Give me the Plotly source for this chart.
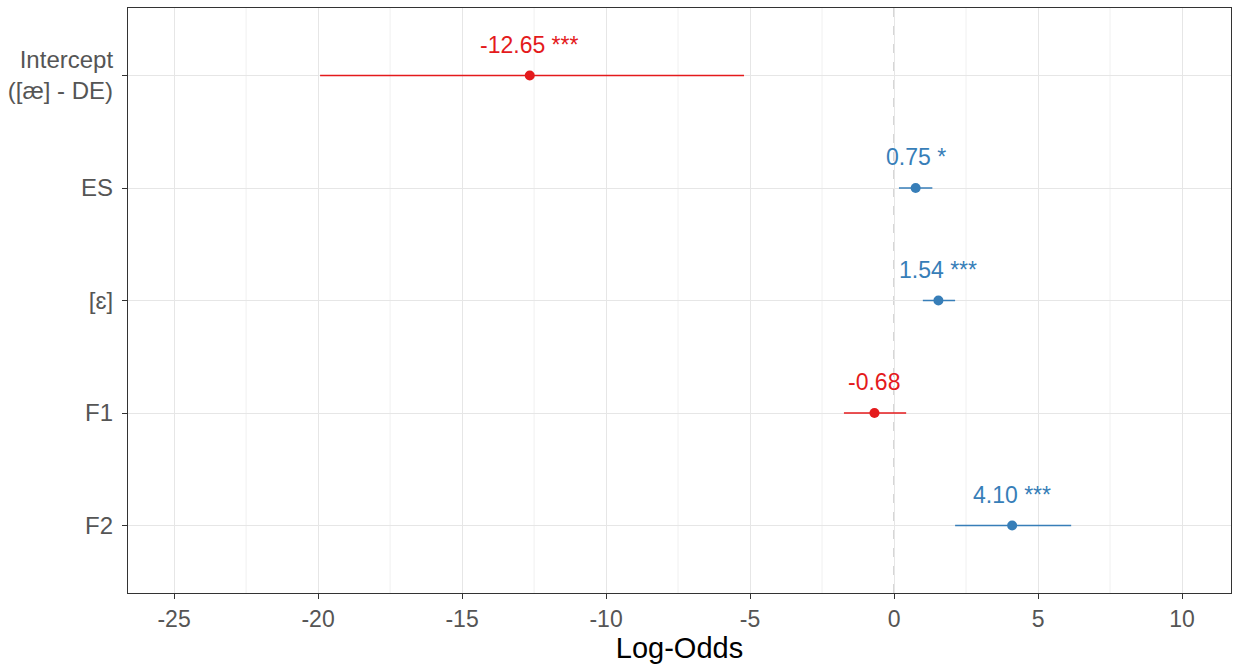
import plotly.graph_objects as go

# Model terms (top to bottom) with estimates and confidence limits
terms = ["Intercept<br>([æ] - DE)", "ES", "[ɛ]", "F1", "F2"]
estimates = [-12.65, 0.75, 1.54, -0.68, 4.10]
ci_low = [-19.93, 0.17, 1.00, -1.74, 2.12]
ci_high = [-5.21, 1.33, 2.12, 0.42, 6.15]
stars = ["***", "*", "***", "", "***"]

x_ticks = [-25, -20, -15, -10, -5, 0, 5, 10]

RED = "#E41A1C"
BLUE = "#377EB8"

fig = go.Figure()

for i, (term, est, lo, hi, st) in enumerate(zip(terms, estimates, ci_low, ci_high, stars)):
    col = BLUE if est > 0 else RED
    fig.add_trace(go.Scatter(
        x=[est], y=[i], mode="markers",
        marker=dict(color=col, size=10),
        error_x=dict(type="data", symmetric=False,
                     array=[hi - est], arrayminus=[est - lo],
                     color=col, thickness=1.5, width=0),
        showlegend=False, hoverinfo="skip",
    ))
    label = f"{est:.2f}" + (f" {st}" if st else "")
    fig.add_annotation(x=est, y=i, text=label, showarrow=False,
                       yshift=31, xanchor="center", yanchor="middle",
                       font=dict(family="Liberation Sans, Arial", size=23, color=col))

# reference line at zero
fig.add_shape(type="line", x0=0, x1=0, y0=0, y1=1, xref="x", yref="paper",
              line=dict(color="#BBBBBB", width=1.3, dash="dash"), layer="below")

# minor grid lines halfway between major ticks
for m in [-22.5, -17.5, -12.5, -7.5, -2.5, 2.5, 7.5]:
    fig.add_shape(type="line", x0=m, x1=m, y0=0, y1=1, xref="x", yref="paper",
                  line=dict(color="#F0F0F0", width=1), layer="below")

fig.update_layout(
    width=1237, height=668,
    margin=dict(l=128, r=6, t=8, b=75),
    plot_bgcolor="white", paper_bgcolor="white",
    font=dict(family="Liberation Sans, Arial", color="#555555"),
    xaxis=dict(
        range=[-26.6, 11.7], tickvals=x_ticks, ticktext=[str(v) for v in x_ticks],
        showgrid=True, gridcolor="#E6E6E6", gridwidth=1, zeroline=False,
        ticks="outside", ticklen=5, tickcolor="#333333",
        tickfont=dict(size=23, color="#555555"),
        showline=True, linecolor="#333333", linewidth=1.2, mirror=True,
        title=dict(text="Log-Odds", font=dict(size=29, color="black"), standoff=5),
    ),
    yaxis=dict(
        range=[4.6, -0.6], tickvals=list(range(len(terms))), ticktext=terms,
        showgrid=True, gridcolor="#E6E6E6", gridwidth=1, zeroline=False,
        ticks="outside", ticklen=5, tickcolor="#333333",
        tickfont=dict(size=24, color="#555555"), ticklabelstandoff=4,
        showline=True, linecolor="#333333", linewidth=1.2, mirror=True,
    ),
)

fig.write_html("out.html")
